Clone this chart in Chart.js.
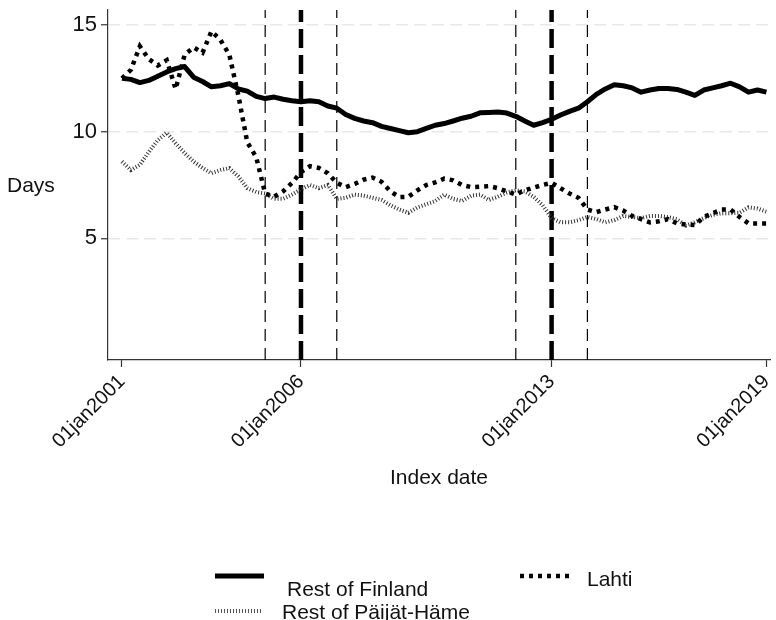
<!DOCTYPE html>
<html>
<head>
<meta charset="utf-8">
<script src="https://cdn.jsdelivr.net/npm/chart.js@4/dist/chart.umd.min.js"></script>
<style>
  html, body { margin: 0; padding: 0; background: #fff; }
  canvas { display: block; }
</style>
</head>
<body>
<canvas id="waitChart" width="776" height="620"></canvas>
<script>
// quarterly index dates (decimal years)
const quarters = [
    2001, 2001.25, 2001.5, 2001.75,
    2002, 2002.25, 2002.5, 2002.75,
    2003, 2003.25, 2003.5, 2003.75,
    2004, 2004.25, 2004.5, 2004.75,
    2005, 2005.25, 2005.5, 2005.75,
    2006, 2006.25, 2006.5, 2006.75,
    2007, 2007.25, 2007.5, 2007.75,
    2008, 2008.25, 2008.5, 2008.75,
    2009, 2009.25, 2009.5, 2009.75,
    2010, 2010.25, 2010.5, 2010.75,
    2011, 2011.25, 2011.5, 2011.75,
    2012, 2012.25, 2012.5, 2012.75,
    2013, 2013.25, 2013.5, 2013.75,
    2014, 2014.25, 2014.5, 2014.75,
    2015, 2015.25, 2015.5, 2015.75,
    2016, 2016.25, 2016.5, 2016.75,
    2017, 2017.25, 2017.5, 2017.75,
    2018, 2018.25, 2018.5, 2018.75,
    2019
];

const restOfFinland = [
    12.5, 12.45, 12.3, 12.4,
    12.6, 12.8, 12.95, 13.05,
    12.55, 12.35, 12.1, 12.15,
    12.25, 12.0, 11.9, 11.65,
    11.55, 11.62, 11.52, 11.45,
    11.4, 11.45, 11.4, 11.2,
    11.1, 10.8, 10.62, 10.5,
    10.42, 10.25, 10.15, 10.05,
    9.95, 10.0, 10.15, 10.3,
    10.38, 10.5, 10.63, 10.72,
    10.88, 10.9, 10.92, 10.87,
    10.72, 10.5, 10.3, 10.42,
    10.58, 10.78, 10.95, 11.1,
    11.4, 11.75, 12.0, 12.2,
    12.15, 12.05, 11.85, 11.95,
    12.02, 12.02, 11.98, 11.85,
    11.7, 11.95, 12.05, 12.15,
    12.27, 12.1, 11.85, 11.95,
    11.85
];

const lahti = [
    12.5, 12.9, 14.0, 13.4,
    13.1, 13.35, 12.0, 13.6,
    13.95, 13.7, 14.7, 14.3,
    13.6, 11.7, 9.5, 8.8,
    7.1, 6.95, 7.2, 7.6,
    8.1, 8.38, 8.3, 8.05,
    7.6, 7.4, 7.55, 7.75,
    7.85, 7.65, 7.2, 6.93,
    6.95, 7.25, 7.5, 7.62,
    7.8, 7.72, 7.5, 7.4,
    7.42, 7.45, 7.35, 7.2,
    7.05, 7.25, 7.38, 7.5,
    7.6, 7.35, 7.1, 6.9,
    6.35, 6.23, 6.35, 6.46,
    6.3, 6.05, 5.9, 5.75,
    5.8, 5.9, 5.7, 5.65,
    5.62, 6.0, 6.18, 6.35,
    6.35, 6.0, 5.7, 5.7,
    5.7
];

const restOfPaijatHame = [
    8.6, 8.2, 8.45, 9.05,
    9.6, 9.95, 9.45, 9.0,
    8.6, 8.3, 8.05, 8.2,
    8.29, 7.9, 7.35, 7.17,
    7.1, 6.85, 6.85, 7.05,
    7.3, 7.5, 7.35, 7.5,
    6.85, 6.9, 7.05, 7.0,
    6.9, 6.8, 6.55, 6.35,
    6.2, 6.45, 6.6, 6.75,
    7.05, 6.85, 6.75, 7.0,
    7.05, 6.8, 6.95, 7.15,
    7.25, 7.2, 6.95, 6.55,
    5.95, 5.75, 5.75, 5.85,
    6.0, 5.9, 5.75, 5.85,
    6.05, 6.0, 5.95, 6.05,
    6.05, 6.0, 5.9, 5.6,
    5.75, 5.95, 6.1, 6.18,
    6.18, 6.2, 6.45, 6.4,
    6.25
];

// reference periods (thin dashed) and reform dates (thick dashed)
const periodLines = [2005, 2007, 2012, 2014];
const reformLines = [2006, 2013];

const xTicks = [2001, 2006, 2013, 2019];
const xTickLabels = ['01jan2001', '01jan2006', '01jan2013', '01jan2019'];
const yTicks = [5, 10, 15];

const yMin = -0.7;
const yMax = 15.7;

const FONT = '"Liberation Sans", Arial, sans-serif';

function toPoints(values) {
    return values.map((v, i) => ({ x: quarters[i], y: v }));
}

function vline(x, width, dash) {
    return {
        label: 'line' + x,
        data: [{ x: x, y: yMin }, { x: x, y: yMax }],
        borderColor: '#000',
        borderWidth: width,
        borderDash: dash,
        borderCapStyle: 'butt',
        pointRadius: 0,
        fill: false
    };
}

const seriesStyles = {
    finland: { color: '#000', width: 5, dash: [] },
    lahti: { color: '#000', width: 4.5, dash: [4, 5] },
    paijat: { color: '#333', width: 4, dash: [1, 2] }
};

const datasets = [
    {
        label: 'Rest of Finland',
        data: toPoints(restOfFinland),
        borderColor: seriesStyles.finland.color,
        borderWidth: seriesStyles.finland.width,
        borderJoinStyle: 'round',
        pointRadius: 0,
        fill: false
    },
    {
        label: 'Lahti',
        data: toPoints(lahti),
        borderColor: seriesStyles.lahti.color,
        borderWidth: seriesStyles.lahti.width,
        borderDash: seriesStyles.lahti.dash,
        borderCapStyle: 'butt',
        pointRadius: 0,
        fill: false
    },
    {
        label: 'Rest of Päijät-Häme',
        data: toPoints(restOfPaijatHame),
        borderColor: seriesStyles.paijat.color,
        borderWidth: seriesStyles.paijat.width,
        borderDash: seriesStyles.paijat.dash,
        borderCapStyle: 'butt',
        pointRadius: 0,
        fill: false
    }
];
periodLines.forEach(x => datasets.push(vline(x, 1.2, [12, 7])));
reformLines.forEach(x => datasets.push(vline(x, 4.5, [19, 7])));

// axis titles and the Stata style legend underneath
const extrasPlugin = {
    id: 'extras',
    afterDraw(chart) {
        const ctx = chart.ctx;
        const area = chart.chartArea;
        ctx.save();
        ctx.fillStyle = '#111';
        ctx.font = '21px ' + FONT;
        ctx.textBaseline = 'middle';

        ctx.textAlign = 'left';
        ctx.fillText('Days', 7, 186);
        ctx.textAlign = 'center';
        ctx.fillText('Index date', (area.left + area.right) / 2, 478);

        function sample(x1, x2, y, st) {
            ctx.beginPath();
            ctx.strokeStyle = st.color;
            ctx.lineWidth = st.width;
            ctx.setLineDash(st.dash);
            ctx.lineCap = 'butt';
            ctx.moveTo(x1, y);
            ctx.lineTo(x2, y);
            ctx.stroke();
        }
        sample(215, 264, 576, seriesStyles.finland);
        sample(520, 570, 576, seriesStyles.lahti);
        sample(215, 263, 611, { color: '#555', width: 4, dash: [1, 2] });
        ctx.setLineDash([]);

        ctx.textAlign = 'left';
        ctx.textBaseline = 'alphabetic';
        ctx.fillStyle = '#111';
        ctx.fillText('Rest of Finland', 287, 596);
        ctx.fillText('Lahti', 587, 586);
        ctx.fillText('Rest of Päijät-Häme', 282, 619);
        ctx.restore();
    }
};

const ctx = document.getElementById('waitChart').getContext('2d');
const waitChart = new Chart(ctx, {
    type: 'line',
    data: { datasets: datasets },
    options: {
        responsive: false,
        animation: false,
        layout: { padding: { top: 10, right: 6, left: 0, bottom: 0 } },
        plugins: {
            legend: { display: false },
            tooltip: { enabled: false }
        },
        scales: {
            x: {
                type: 'linear',
                min: 2000.61,
                max: 2019.1,
                afterBuildTicks: (scale) => {
                    scale.ticks = xTicks.map(v => ({ value: v }));
                },
                afterFit: (scale) => {
                    scale.height = 260;
                    scale.paddingLeft = 0;
                    scale.paddingRight = 0;
                },
                ticks: {
                    autoSkip: false,
                    minRotation: 45,
                    maxRotation: 45,
                    padding: 3,
                    color: '#111',
                    font: { family: FONT, size: 20 },
                    callback: (value) => {
                        const i = xTicks.indexOf(value);
                        return i >= 0 ? xTickLabels[i] : '';
                    }
                },
                grid: {
                    drawOnChartArea: false,
                    drawTicks: true,
                    tickLength: 7,
                    tickColor: '#333',
                    tickWidth: 1.2
                },
                border: { display: true, color: '#333', width: 1.2 }
            },
            y: {
                min: yMin,
                max: yMax,
                afterBuildTicks: (scale) => {
                    scale.ticks = yTicks.map(v => ({ value: v }));
                },
                afterFit: (scale) => {
                    scale.width = 108;
                    scale.paddingTop = 0;
                    scale.paddingBottom = 0;
                },
                ticks: {
                    padding: 4,
                    color: '#111',
                    font: { family: FONT, size: 22 }
                },
                grid: {
                    color: '#e8e8e8',
                    lineWidth: 1.5,
                    drawTicks: true,
                    tickLength: 7,
                    tickColor: '#333',
                    tickWidth: 1.2,
                    tickBorderDash: []
                },
                border: { display: true, color: '#333', width: 1.2, dash: [12, 6] }
            }
        }
    },
    plugins: [extrasPlugin]
});
</script>
</body>
</html>
